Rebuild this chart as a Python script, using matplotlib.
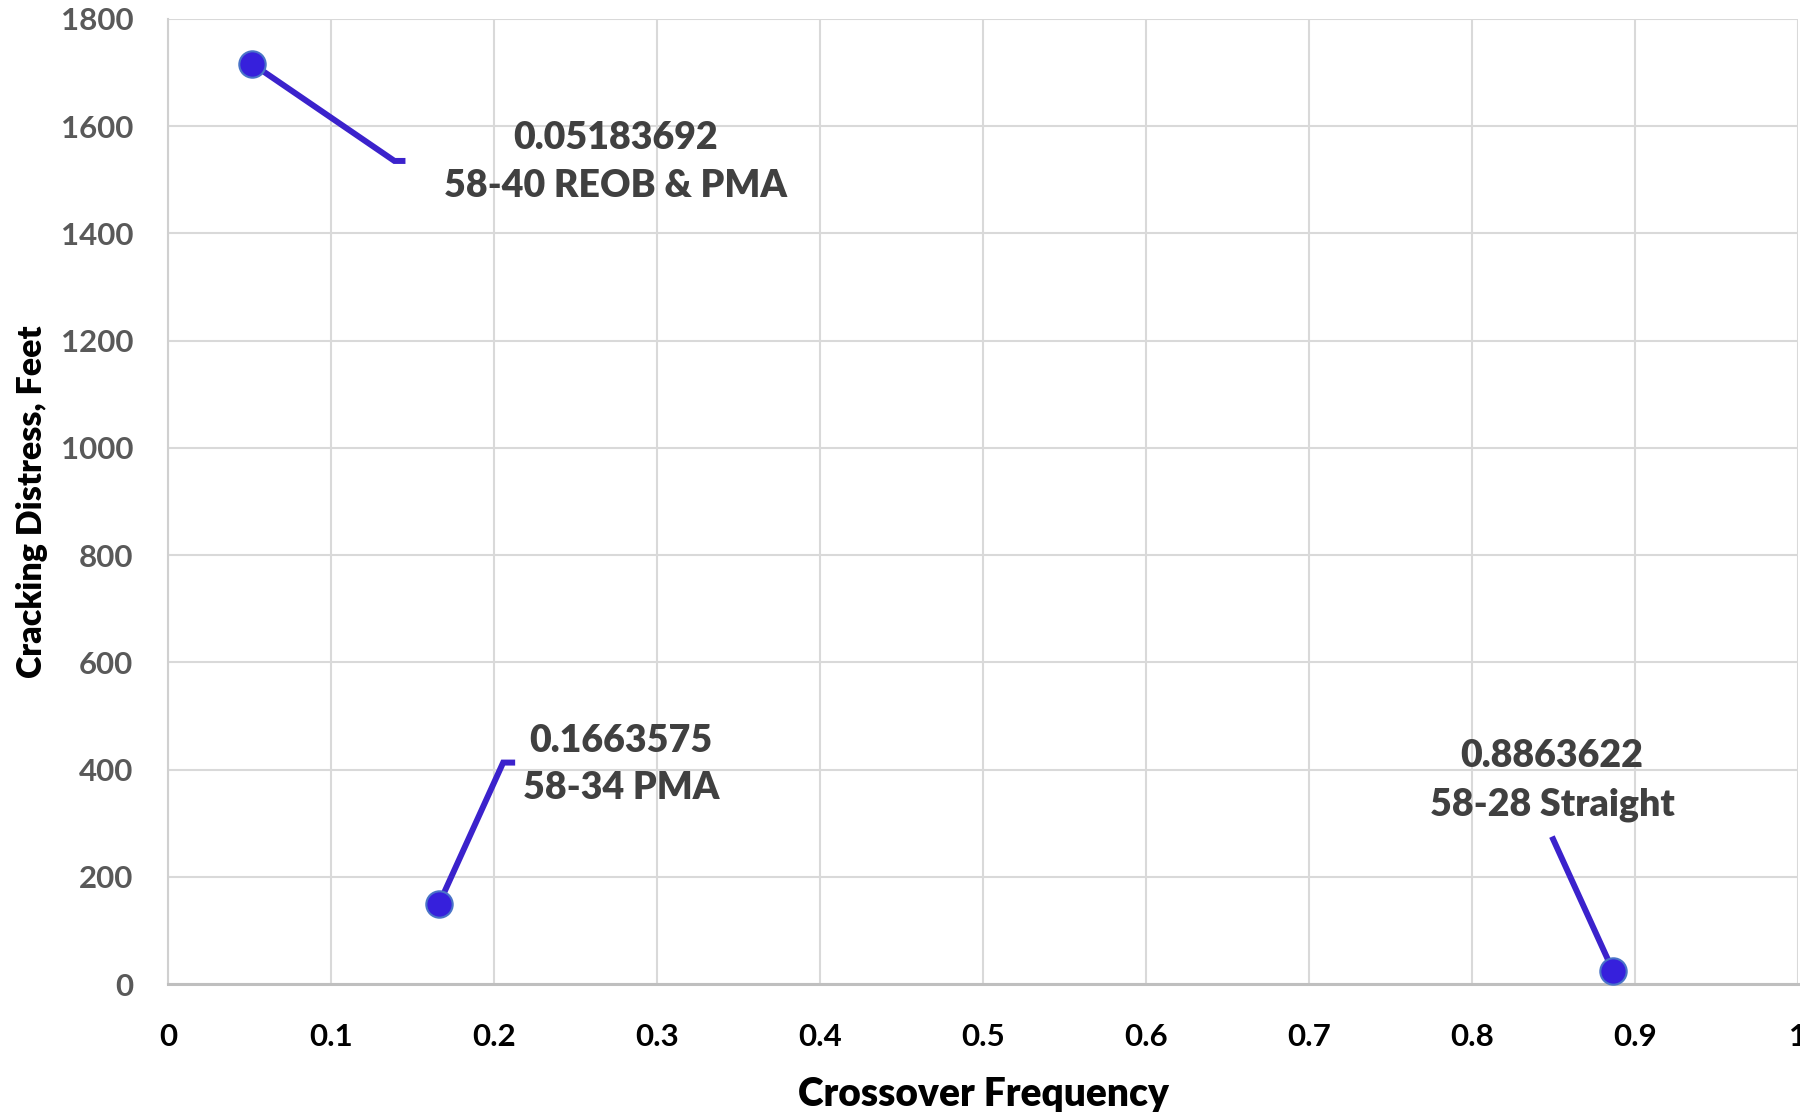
import numpy as np
import matplotlib.pyplot as plt
from matplotlib.transforms import IdentityTransform

# Crossover frequency vs cracking distress, one point per binder
crossover = [0.05183692, 0.1663575, 0.8863622]
cracking = [1716, 150, 25]
binders = ['58-40 REOB & PMA', '58-34 PMA', '58-28 Straight']

# label block offsets and leader-line vertices, in pixels from each point
label_offsets = [(363, -98), (182, 139), (-61, 190)]
leader_offsets = [
    [(0, 0), (142, -97), (153, -97)],
    [(0, 0), (64, 141), (76, 141)],
    [(0, 0), (-61, 134)],
]

plt.rcParams['font.family'] = ['Lato', 'DejaVu Sans']
plt.rcParams['font.weight'] = 'bold'

fig = plt.figure(figsize=(18, 11.12), dpi=100)
ax = fig.add_axes([0.0933, 0.1151, 0.9057, 0.8679])

ax.set_xlim(0, 1)
ax.set_ylim(0, 1800)
ax.set_xticks(np.arange(0, 1.01, 0.1))
ax.set_xticklabels(['0', '0.1', '0.2', '0.3', '0.4', '0.5', '0.6', '0.7', '0.8', '0.9', '1'])
ax.set_yticks(np.arange(0, 1801, 200))

ax.grid(True, color='#d9d9d9', linewidth=1.5)
ax.set_axisbelow(True)
for s in ['top', 'right']:
    ax.spines[s].set_visible(False)
ax.spines['left'].set_color('#d0d0d0')
ax.spines['left'].set_linewidth(1.5)
ax.spines['bottom'].set_color('#bfbfbf')
ax.spines['bottom'].set_linewidth(2.2)

ax.tick_params(axis='both', length=0)
ax.tick_params(axis='y', labelsize=22.5, labelcolor='#595959', pad=25)
ax.tick_params(axis='x', labelsize=22.5, labelcolor='black', pad=28)

ax.set_xlabel('Crossover Frequency', fontsize=28, fontweight='heavy', labelpad=18)
ax.set_ylabel('Cracking Distress, Feet', fontsize=24.5, fontweight='heavy', labelpad=9)

ax.plot(crossover, cracking, linestyle='none', marker='o', markersize=19,
        markerfacecolor='#3620dc', markeredgecolor='#4a74c8', markeredgewidth=1.5,
        zorder=4, clip_on=False)

fig.canvas.draw()
for x, y, name, (tx, ty), verts in zip(crossover, cracking, binders, label_offsets, leader_offsets):
    px, py = ax.transData.transform((x, y))
    vx = [px + dx for dx, dy in verts]
    vy = [py + dy for dx, dy in verts]
    ax.plot(vx, vy, color='#3b22cc', linewidth=4.3, transform=IdentityTransform(),
            solid_capstyle='butt', solid_joinstyle='miter', zorder=3, clip_on=False)
    ax.annotate('%s\n%s' % (x, name), xy=(x, y), xytext=(tx, ty),
                textcoords='offset pixels', ha='center', va='center',
                fontsize=27, fontweight='heavy', color='#404040', linespacing=1.49)

fig.savefig('out.png', dpi=100)
